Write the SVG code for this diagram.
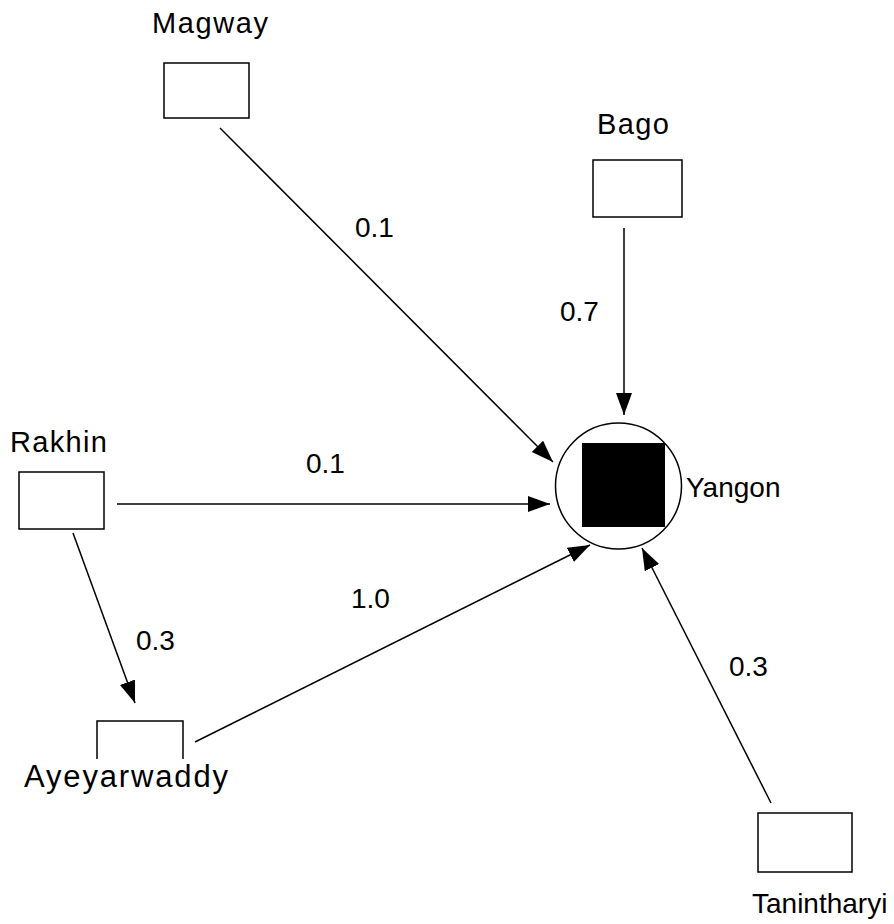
<svg xmlns="http://www.w3.org/2000/svg" width="894" height="924" viewBox="0 0 894 924">
<defs>
<marker id="arr" markerUnits="userSpaceOnUse" markerWidth="24" markerHeight="18" refX="22" refY="8" orient="auto">
<path d="M0,0 L22,8 L0,16 Z" fill="#000"/>
</marker>
<style>
.box{fill:#fff;stroke:#000;stroke-width:1.5}
.t{font-family:"Liberation Sans",Arial,sans-serif;font-size:28px;fill:#000}
.l{font-family:"Liberation Sans",Arial,sans-serif;font-size:29px;fill:#000}
.e{stroke:#000;stroke-width:1.5;fill:none;marker-end:url(#arr)}
</style>
</defs>
<rect width="894" height="924" fill="#fff"/>
<g id="connectors">
<line class="e" x1="220" y1="128" x2="553" y2="462"/>
<line class="e" x1="624" y1="228" x2="624" y2="415"/>
<line class="e" x1="117" y1="504" x2="550" y2="504"/>
<line class="e" x1="73" y1="533" x2="135" y2="703"/>
<line class="e" x1="195" y1="742" x2="590" y2="545"/>
<line class="e" x1="771" y1="803" x2="642" y2="548"/>
<text class="t" x="355" y="237">0.1</text>
<text class="t" x="560" y="321">0.7</text>
<text class="t" x="306" y="473">0.1</text>
<text class="t" x="351" y="608">1.0</text>
<text class="t" x="136" y="650">0.3</text>
<text class="t" x="729" y="676">0.3</text>
</g>
<g id="magway">
<rect class="box" x="164" y="63" width="85" height="55"/>
<text class="l" x="152" y="33" textLength="116" lengthAdjust="spacing">Magway</text>
</g>
<g id="bago">
<rect class="box" x="593" y="160" width="89" height="57"/>
<text class="l" x="597" y="134" textLength="72" lengthAdjust="spacing">Bago</text>
</g>
<g id="rakhin">
<rect class="box" x="19" y="472" width="85" height="57"/>
<text class="l" x="10" y="452" textLength="97" lengthAdjust="spacing">Rakhin</text>
</g>
<g id="yangon">
<circle cx="618.5" cy="486" r="63" fill="#fff" stroke="#000" stroke-width="1.5"/>
<rect x="582" y="443" width="83" height="84" fill="#000"/>
<text class="t" x="686" y="497">Yangon</text>
</g>
<g id="ayeyarwaddy">
<rect class="box" x="97" y="721" width="86" height="55"/>
<rect x="20" y="759" width="215" height="36" fill="#fff"/>
<text class="t" x="24" y="787" style="font-size:31px" textLength="204" lengthAdjust="spacing">Ayeyarwaddy</text>
</g>
<g id="tanintharyi">
<rect class="box" x="758" y="813" width="94" height="59"/>
<text class="t" x="752" y="913">Tanintharyi</text>
</g>
</svg>
